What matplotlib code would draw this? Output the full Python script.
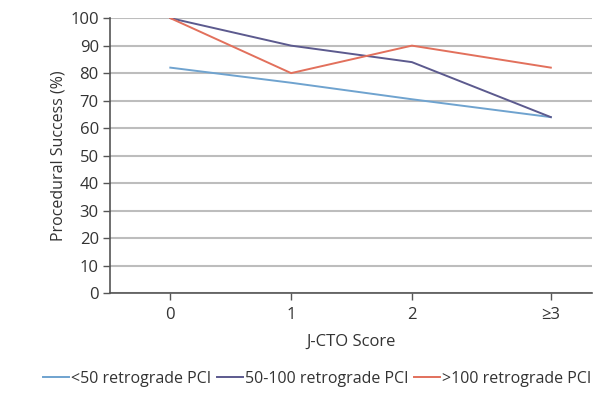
import matplotlib
matplotlib.use("Agg")
import matplotlib.pyplot as plt

categories = ["0", "1", "2", "≥3"]
lt50 = [82, 76.5, 70.5, 64]
mid = [100, 90, 84, 64]
gt100 = [100, 80, 90, 82]
series_labels = ["<50 retrograde PCI", "50-100 retrograde PCI", ">100 retrograde PCI"]
y_ticks = list(range(0, 101, 10))

plt.rcParams['font.family'] = ['Open Sans', 'DejaVu Sans']

fig = plt.figure(figsize=(6.14, 3.94), dpi=100)
ax = fig.add_axes([0.179, 0.256, 0.785, 0.698])

xpos = [0, 1, 2, 3.15]
colors = ["#6fa3cf", "#5c5a8e", "#e2705c"]
for vals, c, lab in zip([lt50, mid, gt100], colors, series_labels):
    ax.plot(xpos, vals, color=c, lw=1.4, label=lab, zorder=3)

ax.set_xlim(-0.5, 3.49)
ax.set_ylim(0, 100)
ax.set_yticks(y_ticks)
ax.set_xticks(xpos)
ax.set_xticklabels(categories)
ax.yaxis.grid(True, color="#bdbdbd", lw=1.5)
ax.set_axisbelow(True)
for s in ["top", "right"]:
    ax.spines[s].set_visible(False)
for s in ["left", "bottom"]:
    ax.spines[s].set_color("#555555")
    ax.spines[s].set_linewidth(1.2)
ax.tick_params(axis="both", colors="#555555", labelcolor="#333333", labelsize=12, length=5, width=1)
ax.tick_params(axis="x", pad=5)
ax.tick_params(axis="y", pad=3)
ax.set_ylabel("Procedural Success (%)", fontsize=11.5, color="#333333", labelpad=3)
ax.set_xlabel("J-CTO Score", fontsize=12, color="#333333", labelpad=8, fontweight="medium")

fig.legend(loc="center", bbox_to_anchor=(0.517, 0.038), ncol=3, frameon=False,
           fontsize=11.5, handlelength=1.6, handletextpad=0.15, columnspacing=0.35,
           labelcolor="#333333")

fig.savefig("out.png", dpi=100, facecolor="white")
